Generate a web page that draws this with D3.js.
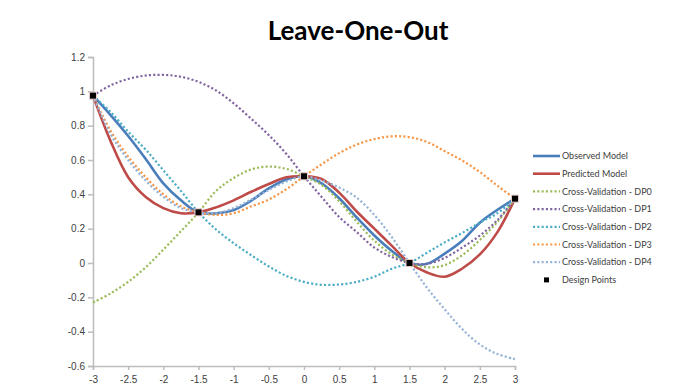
<!DOCTYPE html>
<html>
<head>
<meta charset="utf-8">
<script src="https://cdn.jsdelivr.net/npm/d3@7"></script>
<style>
  body { margin: 0; background: #fff; }
  svg { font-family: Lato, "Open Sans", sans-serif; }
</style>
</head>
<body>
<svg id="chart" width="696" height="389"></svg>
<script>
// valores
const xValues = [-3, -2.75, -2.5, -2.25, -2, -1.75, -1.5, -1.25, -1, -0.75, -0.5, -0.25, 0,
                 0.25, 0.5, 0.75, 1, 1.25, 1.5, 1.75, 2, 2.25, 2.5, 2.75, 3];

const observed  = [0.975, 0.862, 0.74, 0.606, 0.464, 0.365, 0.295, 0.289, 0.308, 0.363, 0.435, 0.487, 0.505,
                   0.464, 0.377, 0.265, 0.16, 0.07, 0.0, -0.005, 0.055, 0.13, 0.235, 0.31, 0.375];
const predicted = [0.975, 0.71, 0.50, 0.385, 0.32, 0.29, 0.295, 0.324, 0.365, 0.415, 0.46, 0.499, 0.505,
                   0.489, 0.41, 0.30, 0.20, 0.10, 0.0, -0.055, -0.08, -0.032, 0.05, 0.18, 0.375];
const cvDP0 = [-0.23, -0.177, -0.11, -0.025, 0.078, 0.185, 0.295, 0.42, 0.495, 0.545, 0.562, 0.548, 0.505,
               0.455, 0.36, 0.24, 0.13, 0.05, 0.0, -0.025, -0.012, 0.046, 0.134, 0.24, 0.375];
const cvDP1 = [0.975, 1.035, 1.072, 1.092, 1.096, 1.085, 1.055, 1.005, 0.93, 0.84, 0.745, 0.635, 0.505,
               0.385, 0.268, 0.18, 0.09, 0.035, 0.0, -0.005, 0.03, 0.09, 0.16, 0.25, 0.375];
const cvDP2 = [0.975, 0.88, 0.765, 0.66, 0.54, 0.42, 0.295, 0.195, 0.115, 0.045, -0.02, -0.075, -0.11,
               -0.127, -0.125, -0.11, -0.08, -0.033, 0.0, 0.06, 0.12, 0.175, 0.235, 0.29, 0.375];
const cvDP3 = [0.975, 0.77, 0.62, 0.5, 0.4, 0.33, 0.295, 0.28, 0.29, 0.33, 0.37, 0.43, 0.505,
               0.575, 0.64, 0.69, 0.722, 0.738, 0.733, 0.705, 0.652, 0.597, 0.53, 0.45, 0.375];
const cvDP4 = [0.975, 0.75, 0.6, 0.48, 0.385, 0.32, 0.295, 0.29, 0.32, 0.37, 0.425, 0.475, 0.505,
               0.48, 0.44, 0.38, 0.28, 0.15, 0.0, -0.145, -0.27, -0.385, -0.475, -0.53, -0.56];

const designX = [-3, -1.5, 0, 1.5, 3];
const designY = [0.975, 0.295, 0.505, 0, 0.375];

const xTicks = [-3, -2.5, -2, -1.5, -1, -0.5, 0, 0.5, 1, 1.5, 2, 2.5, 3];
const yTicks = [-0.6, -0.4, -0.2, 0, 0.2, 0.4, 0.6, 0.8, 1, 1.2];

const seriesNames = ['Observed Model', 'Predicted Model', 'Cross-Validation - DP0', 'Cross-Validation - DP1',
                     'Cross-Validation - DP2', 'Cross-Validation - DP3', 'Cross-Validation - DP4'];
const seriesValues = [observed, predicted, cvDP0, cvDP1, cvDP2, cvDP3, cvDP4];
const seriesColors = ['#4a7ebb', '#be4b48', '#9bbb59', '#8064a2', '#4bacc6', '#f79646', '#95b3d7'];
const seriesDotted = [false, false, true, true, true, true, true];

const margens = { left: 93, right: 181, top: 57, bottom: 23 };
const svg = d3.select('#chart');
const width = 696 - margens.left - margens.right;
const height = 389 - margens.top - margens.bottom;

const x = d3.scaleLinear().domain([-3, 3]).range([0, width]);
const y = d3.scaleLinear().domain([-0.6, 1.2]).range([height, 0]);

// titulo
svg.append('text')
    .attr('x', 358)
    .attr('y', 40)
    .attr('text-anchor', 'middle')
    .style('font-size', '26px')
    .style('font-weight', 'bold')
    .attr('fill', '#000')
    .text('Leave-One-Out');

const group = svg.append('g')
    .attr('transform', `translate(${margens.left}, ${margens.top})`);

// eixos
const fmt = d => String(+d.toFixed(1));
const axisY = group.append('g')
    .call(d3.axisLeft(y).tickValues(yTicks).tickSize(5).tickPadding(3).tickFormat(fmt));
const axisX = group.append('g')
    .attr('transform', `translate(0, ${height})`)
    .call(d3.axisBottom(x).tickValues(xTicks).tickSize(4).tickPadding(6).tickFormat(fmt));

[axisX, axisY].forEach(a => {
    a.selectAll('path, line').attr('stroke', '#bdbdbd').attr('stroke-width', 1.5);
    a.selectAll('text').attr('fill', '#404040').style('font-size', '10px');
});

// linhas
const line = d3.line()
    .x((d, i) => x(xValues[i]))
    .y(d => y(d))
    .curve(d3.curveCatmullRom.alpha(0.5));

seriesValues.forEach((vals, k) => {
    group.append('path')
        .datum(vals)
        .attr('d', line)
        .attr('fill', 'none')
        .attr('stroke', seriesColors[k])
        .attr('stroke-width', seriesDotted[k] ? 2.2 : 2.6)
        .attr('stroke-dasharray', seriesDotted[k] ? '2.1 2.2' : null);
});

// pontos de projeto
group.selectAll('rect.dp')
    .data(designX.map((d, i) => ({ x: d, y: designY[i] })))
    .enter()
    .append('rect')
    .attr('class', 'dp')
    .attr('x', d => x(d.x) - 3.5)
    .attr('y', d => y(d.y) - 3.5)
    .attr('width', 7)
    .attr('height', 7)
    .attr('fill', '#000')
    .attr('stroke', '#e6c9c9')
    .attr('stroke-width', 1);

// legenda
const legend = svg.append('g').attr('transform', 'translate(533, 156)');
const rowH = 17.7;
seriesNames.forEach((name, k) => {
    const row = legend.append('g').attr('transform', `translate(0, ${k * rowH})`);
    row.append('line')
        .attr('x1', 0).attr('x2', 27).attr('y1', 0).attr('y2', 0)
        .attr('stroke', seriesColors[k])
        .attr('stroke-width', seriesDotted[k] ? 2.2 : 2.6)
        .attr('stroke-dasharray', seriesDotted[k] ? '2.1 2.2' : null);
    row.append('text')
        .attr('x', 29).attr('y', 3.2)
        .style('font-size', '9px')
        .attr('fill', '#404040')
        .text(name);
});
const dpRow = legend.append('g').attr('transform', `translate(0, ${7 * rowH})`);
dpRow.append('rect')
    .attr('x', 11).attr('y', -2.5).attr('width', 5).attr('height', 5)
    .attr('fill', '#000');
dpRow.append('text')
    .attr('x', 29).attr('y', 3.2)
    .style('font-size', '9px')
    .attr('fill', '#404040')
    .text('Design Points');
</script>
</body>
</html>
